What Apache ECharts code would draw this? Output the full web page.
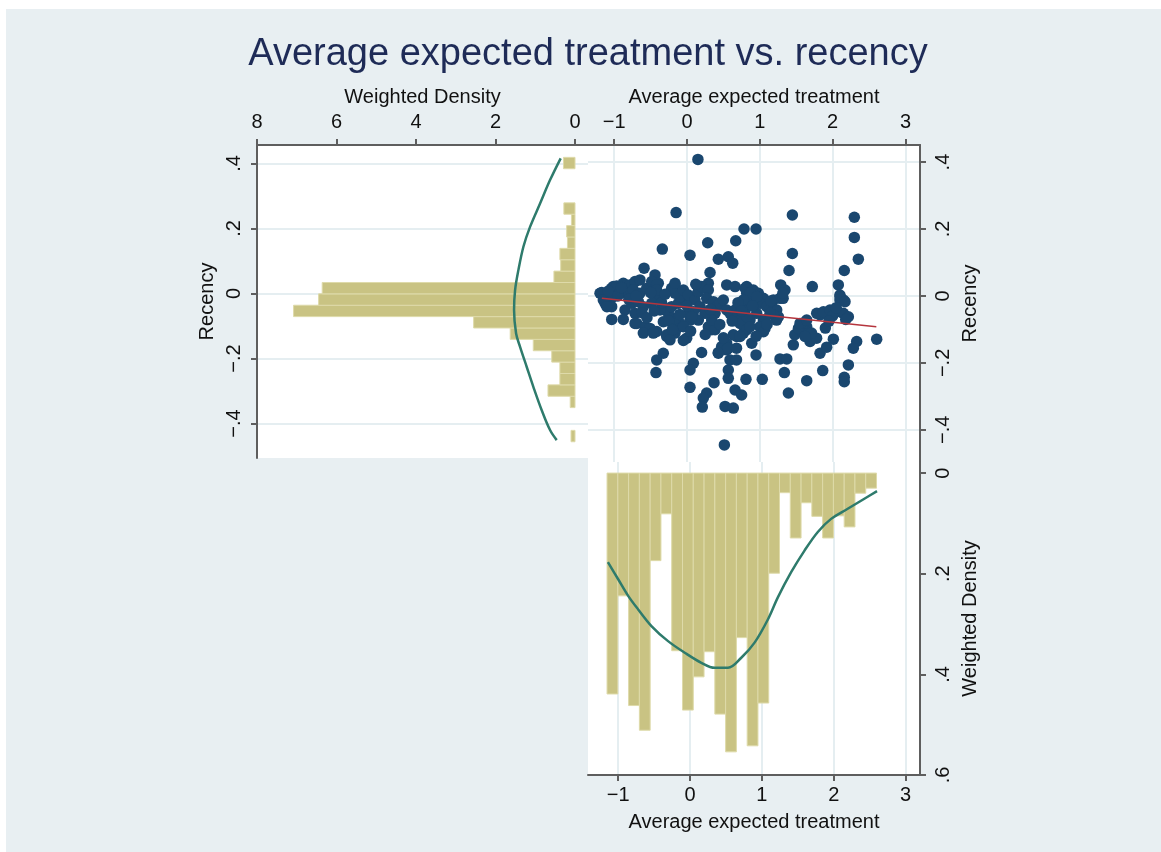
<!DOCTYPE html>
<html><head><meta charset="utf-8">
<script src="https://cdn.jsdelivr.net/npm/echarts@6/dist/echarts.min.js"></script>
<style>
html,body{margin:0;padding:0;background:#ffffff;}
#bg{position:absolute;left:6px;top:9px;width:1155px;height:843px;background:#e8eff2;}
#chart{position:absolute;left:0;top:0;width:1161px;height:852px;}
</style>
</head><body>
<div id="bg"></div>
<div id="chart"></div>
<script>
const chartTitle = 'Average expected treatment vs. recency';
const treatLabel = 'Average expected treatment';
const densityLabel = 'Weighted Density';
const recencyLabel = 'Recency';

const recencyTicks = [-0.4, -0.2, 0, 0.2, 0.4];
const treatTicks = [-1, 0, 1, 2, 3];
const leftDensityTicks = [0, 2, 4, 6, 8];
const bottomDensityTicks = [0, 0.2, 0.4, 0.6];

// Left histogram of recency (horizontal bars)
const recencyBinEdges = [-0.456,-0.421,-0.386,-0.351,-0.316,-0.281,-0.246,-0.211,-0.176,-0.141,-0.106,-0.071,-0.036,-0.001,0.034,0.069,0.104,0.139,0.174,0.209,0.244,0.279,0.314,0.349,0.384,0.419];
const recencyBinDensity = [0.10,0,0,0.12,0.68,0.38,0.38,0.585,1.05,1.63,2.55,7.08,6.45,6.36,0.53,0.36,0.38,0.19,0.21,0.09,0.28,0,0,0,0.29];
// Density curve on the left panel
const recencyCurveY = [0.416,0.349,0.277,0.205,0.144,0.072,0.010,-0.051,-0.123,-0.164,-0.226,-0.287,-0.359,-0.420,-0.451];
const recencyCurveDensity = [0.36,0.628,0.879,1.131,1.298,1.424,1.508,1.533,1.482,1.382,1.214,1.048,0.837,0.628,0.46];

// Bottom histogram of average expected treatment (downward bars)
const treatBinEdges = [-1.155,-1.005,-0.855,-0.705,-0.555,-0.405,-0.255,-0.105,0.045,0.195,0.345,0.495,0.645,0.795,0.945,1.095,1.245,1.395,1.545,1.695,1.845,1.995,2.145,2.295,2.445,2.595];
const treatBinDensity = [0.439,0.244,0.462,0.511,0.174,0.081,0.353,0.471,0.405,0.355,0.479,0.554,0.327,0.542,0.457,0.199,0.039,0.129,0.059,0.086,0.129,0.085,0.107,0.04,0.03];
// Density curve on the bottom panel
const treatCurveX = [-1.143,-1.0,-0.861,-0.722,-0.537,-0.306,-0.074,0.157,0.343,0.528,0.713,0.898,1.083,1.222,1.407,1.593,1.778,1.963,2.194,2.426,2.602];
const treatCurveDensity = [0.177,0.211,0.244,0.271,0.304,0.334,0.357,0.377,0.387,0.387,0.367,0.337,0.291,0.247,0.197,0.154,0.117,0.091,0.071,0.051,0.036];

// Scatter points [treatment, recency]
const scatterPoints = [
[0.15,0.408],[-0.15,0.249],[1.447,0.242],[2.298,0.235],[0.783,0.2],[0.948,0.2],[2.298,0.175],[0.284,0.159],[0.669,0.165],[-0.339,0.14],
[1.447,0.127],[2.353,0.11],[0.041,0.122],[0.43,0.11],[0.567,0.117],[0.628,0.098],[0.316,0.07],[1.401,0.076],[2.16,0.076],[-0.59,0.083],
[-0.44,0.063],[1.721,0.028],[2.078,0.033],[1.287,0.033],[1.346,0.018],[-0.165,0.033],[-0.394,0.038],[0.293,0.038],[0.545,0.033],[0.66,0.028],
[0.82,0.028],[0.91,0.018],[0.98,0.008],[0.155,0.013],[-1.012,0.028],[-1.172,0.01],[2.1,0.003],[2.15,-0.012],
[-1.195,0.008],[-1.104,-0.007],[-1.126,-0.022],[-1.035,0.023],[-0.966,0.030],[-0.875,0.038],[-0.783,0.033],[-0.714,0.043],[-0.646,0.048],[-1.012,-0.002],
[-0.920,0.008],[-0.829,0.008],[-0.737,0.018],[-0.646,0.008],[-0.554,0.023],[-0.485,0.043],[-0.417,0.033],[-1.035,-0.032],[-0.852,-0.042],[-0.760,-0.022],
[-0.668,-0.017],[-0.600,-0.032],[-0.714,-0.052],[-0.691,-0.082],[-0.577,-0.092],[-0.508,-0.097],[-0.417,-0.106],[-0.279,-0.116],[-0.165,-0.111],[-0.142,-0.097],
[-0.096,-0.082],[-0.165,-0.067],[-0.256,-0.052],[-0.302,-0.042],[-0.211,-0.032],[-0.119,-0.022],[-0.027,-0.012],[-0.096,-0.002],[-0.165,0.008],[-0.211,0.023],
[-0.165,0.038],[-0.050,0.018],[0.018,0.003],[0.110,-0.012],[0.156,0.013],[0.201,0.028],[0.293,0.018],[0.270,-0.007],[0.179,-0.032],[0.087,-0.047],
[0.041,-0.072],[-0.050,-0.092],[0.018,-0.052],[0.362,-0.017],[0.408,-0.032],[0.385,-0.052],[0.453,-0.022],[0.499,-0.012],[0.545,-0.042],[0.591,-0.052],
[0.659,-0.042],[0.705,-0.057],[0.728,-0.072],[0.797,-0.042],[0.842,-0.012],[0.820,0.008],[0.797,0.023],[0.888,0.013],[0.957,-0.002],[1.003,-0.017],
[1.049,-0.007],[1.094,-0.027],[1.163,-0.032],[1.186,-0.012],[1.232,-0.042],[1.255,-0.062],[1.049,-0.072],[1.026,-0.092],[1.071,-0.097],[0.957,-0.052],
[0.865,-0.072],[0.820,-0.097],[0.774,-0.111],[0.682,-0.121],[0.728,-0.082],[0.636,-0.116],[0.545,-0.141],[0.476,-0.151],[0.545,-0.161],[0.430,-0.171],
[0.339,-0.101],[0.293,-0.092],[0.385,-0.101],[0.339,-0.072],[0.247,-0.052],[0.156,-0.072],[0.064,-0.062],[-0.005,-0.126],[-0.325,-0.077],[-0.371,-0.042],
[-0.394,-0.002],[-0.417,0.018],[-0.485,-0.022],
[-1.034,-0.07],[-0.875,-0.07],[-0.714,-0.082],[-0.6,-0.111],[-0.463,-0.111],[-0.279,-0.121],[-0.234,-0.131],[-0.05,-0.133],[-0.326,-0.171],[-0.416,-0.191],
[-0.426,-0.229],[0.2,-0.169],[0.43,-0.169],[0.087,-0.201],[0.041,-0.221],[0.041,-0.273],[0.371,-0.259],[0.27,-0.29],[0.224,-0.305],[0.21,-0.332],
[0.522,-0.33],[0.636,-0.335],[0.513,-0.445],[0.567,-0.156],[0.59,-0.191],[0.567,-0.221],[0.567,-0.246],[0.66,-0.281],[0.68,-0.191],[0.68,-0.156],
[-1.15,-0.012],[-1.1,-0.032],
[2.605,-0.129],[2.33,-0.136],[2.284,-0.156],[2.216,-0.206],[2.16,-0.243],[2.16,-0.256],[1.864,-0.223],[1.644,-0.253],[1.392,-0.29],[1.337,-0.229],
[1.277,-0.188],[1.37,-0.188],[1.034,-0.249],[0.81,-0.249],[0.75,-0.296],[0.948,-0.176],[0.889,-0.141],[1.827,-0.171],[1.918,-0.153],[2.01,-0.129],
[1.46,-0.146],[1.48,-0.116],[1.55,-0.101],[1.644,-0.092],[1.69,-0.136],[1.78,-0.126],[1.71,-0.111],[1.9,-0.096],[1.827,-0.057],[1.92,-0.052],
[2.056,-0.047],[2.147,-0.052],[2.216,-0.062],[2.1,-0.012],[1.6,-0.081],[1.53,-0.097],[1.277,-0.007],[1.32,-0.007],[1.186,-0.057],[1.23,-0.072],
[1.003,-0.022],[1.095,-0.032],[1.14,-0.052],[1.07,-0.072],[1.0,-0.092],[1.05,-0.107],[0.82,-0.062],[0.82,-0.101],[0.865,-0.092],[0.728,-0.121],
[0.865,0.008],[0.957,-0.002],[0.773,-0.012],[1.316,0.008],
[1.552,-0.082],[1.644,-0.072],[1.621,-0.121],[1.781,-0.052],[1.873,-0.047],[1.964,-0.042],[2.102,-0.002],[2.17,-0.017],
[-1.08,0.015],[-0.95,0.0],[-0.9,0.025],[-0.8,-0.01],[-0.7,0.0],[-0.62,-0.05],[-0.55,-0.065],[-0.5,0.01],[-0.45,-0.045],[-0.35,-0.02],
[-0.3,0.005],[-0.25,-0.075],[-0.2,-0.1],[-0.1,-0.055],[0.0,-0.03],[0.05,-0.105],[0.12,0.035],[0.25,-0.115],[0.32,-0.04],[0.45,-0.085],
[0.5,-0.125],[0.62,-0.075],[0.7,-0.02],[0.75,-0.045],[0.9,-0.03],[0.95,-0.12],[1.1,-0.085],[1.15,-0.015],[2.0,-0.06],[2.05,-0.035],
[2.18,-0.07],[1.95,-0.075]
];
// Linear fit line endpoints
const fitTreat = [-1.17, 2.6];
const fitRecency = [-0.007, -0.092];

const FONT = '"Liberation Sans", Arial, Helvetica, sans-serif';
const BAR_FILL = '#c9c383';
const BAR_STROKE = '#dedaa9';
const CURVE = '#2e7b6c';
const DOT = '#1a476f';
const FIT = '#b5353d';
const AXIS = '#5e5e5e';
const GRIDLINE = '#e5eef1';

function fmt(v) {
  if (v === 0) return '0';
  const s = String(Math.abs(v)).replace(/^0\./, '.');
  return (v < 0 ? '\u2212' : '') + s;
}
const labelStyle = { fontFamily: FONT, fontSize: 20, color: '#111' };
const nameStyle = { fontFamily: FONT, fontSize: 20, color: '#111' };

function axisBase(ticks, opts) {
  return Object.assign({
    type: 'value',
    axisLine: { show: true, onZero: false, lineStyle: { color: AXIS, width: 2 } },
    axisTick: { show: true, length: 6, inside: false, customValues: ticks, lineStyle: { color: AXIS, width: 2 } },
    axisLabel: Object.assign({ customValues: ticks, formatter: fmt, hideOverlap: false, showMinLabel: true, showMaxLabel: true }, labelStyle),
    splitLine: { show: false },
    nameLocation: 'middle',
    nameTextStyle: nameStyle
  }, opts);
}

const leftBars = recencyBinDensity.map((d, i) => [recencyBinEdges[i], recencyBinEdges[i + 1], d]);
const bottomBars = treatBinDensity.map((d, i) => [treatBinEdges[i], treatBinEdges[i + 1], d]);
const leftCurve = recencyCurveY.map((y, i) => [recencyCurveDensity[i], y]);
const bottomCurve = treatCurveX.map((x, i) => [x, treatCurveDensity[i]]);
const fitLine = fitTreat.map((x, i) => [x, fitRecency[i]]);

function rectFrom(p1, p2) {
  return {
    x: Math.min(p1[0], p2[0]), y: Math.min(p1[1], p2[1]),
    width: Math.abs(p2[0] - p1[0]), height: Math.abs(p2[1] - p1[1])
  };
}

const chart = echarts.init(document.getElementById('chart'), null, { renderer: 'canvas' });
const option = {
  animation: false,
  backgroundColor: 'transparent',
  graphic: [{
    type: 'text', x: 588, y: 55, z: 10,
    style: { text: chartTitle, font: '38px ' + FONT, fill: '#1e2b57', align: 'center', verticalAlign: 'middle' }
  }],
  grid: [
    { left: 257, top: 145, width: 331, height: 313, show: true, backgroundColor: '#ffffff', borderWidth: 0, containLabel: false, outerBoundsMode: 'none' },
    { left: 588, top: 145, width: 332, height: 317, show: true, backgroundColor: '#ffffff', borderWidth: 0, containLabel: false, outerBoundsMode: 'none' },
    { left: 588, top: 462, width: 332, height: 313, show: true, backgroundColor: '#ffffff', borderWidth: 0, containLabel: false, outerBoundsMode: 'none' }
  ],
  xAxis: [
    axisBase(leftDensityTicks, { gridIndex: 0, position: 'top', inverse: true, min: -0.327, max: 8,
      name: densityLabel, nameGap: 38,
      axisLabel: Object.assign({ customValues: leftDensityTicks, formatter: fmt, margin: 13 }, labelStyle) }),
    axisBase(treatTicks, { gridIndex: 1, position: 'top', min: -1.36, max: 3.2,
      name: treatLabel, nameGap: 38,
      axisLabel: Object.assign({ customValues: treatTicks, formatter: fmt, margin: 13 }, labelStyle),
      splitLine: { show: true, lineStyle: { color: GRIDLINE, width: 2 } } }),
    axisBase(treatTicks, { gridIndex: 2, position: 'bottom', min: -1.42, max: 3.2,
      name: treatLabel, nameGap: 37,
      axisLabel: Object.assign({ customValues: treatTicks, formatter: fmt, margin: 10 }, labelStyle),
      splitLine: { show: true, lineStyle: { color: GRIDLINE, width: 2 } } })
  ],
  yAxis: [
    axisBase(recencyTicks, { gridIndex: 0, position: 'left', min: -0.506, max: 0.457,
      name: recencyLabel, nameGap: 40, nameRotate: 90,
      axisLabel: Object.assign({ customValues: recencyTicks, formatter: fmt, rotate: 90, margin: 13 }, labelStyle),
      splitLine: { show: true, lineStyle: { color: GRIDLINE, width: 2 } } }),
    axisBase(recencyTicks, { gridIndex: 1, position: 'right', min: -0.496, max: 0.451,
      name: recencyLabel, nameGap: 40, nameRotate: 90,
      axisLabel: Object.assign({ customValues: recencyTicks, formatter: fmt, rotate: 90, margin: 13 }, labelStyle),
      splitLine: { show: true, lineStyle: { color: GRIDLINE, width: 2 } } }),
    axisBase(bottomDensityTicks, { gridIndex: 2, position: 'right', inverse: true, min: -0.022, max: 0.6,
      name: densityLabel, nameGap: 40, nameRotate: 90,
      axisLabel: Object.assign({ customValues: bottomDensityTicks, formatter: fmt, rotate: 90, margin: 13 }, labelStyle) })
  ],
  series: [
    {
      type: 'custom', xAxisIndex: 0, yAxisIndex: 0, data: leftBars,
      encode: { x: 2, y: [0, 1] }, clip: true,
      renderItem: function (params, api) {
        const lo = api.value(0), hi = api.value(1), d = api.value(2);
        if (!d) return null;
        const p1 = api.coord([0, lo]), p2 = api.coord([d, hi]);
        return { type: 'rect', shape: rectFrom(p1, p2), style: { fill: BAR_FILL, stroke: BAR_STROKE, lineWidth: 1 } };
      }
    },
    {
      type: 'line', xAxisIndex: 0, yAxisIndex: 0, data: leftCurve, smooth: 0.35,
      showSymbol: false, symbol: 'none', lineStyle: { color: CURVE, width: 2.5 }, z: 5
    },
    {
      type: 'scatter', xAxisIndex: 1, yAxisIndex: 1, data: scatterPoints,
      symbol: 'circle', symbolSize: 11.5, itemStyle: { color: DOT, opacity: 1 }, z: 3
    },
    {
      type: 'line', xAxisIndex: 1, yAxisIndex: 1, data: fitLine,
      showSymbol: false, symbol: 'none', lineStyle: { color: FIT, width: 1.5 }, z: 6
    },
    {
      type: 'custom', xAxisIndex: 2, yAxisIndex: 2, data: bottomBars,
      encode: { x: [0, 1], y: 2 }, clip: true,
      renderItem: function (params, api) {
        const lo = api.value(0), hi = api.value(1), d = api.value(2);
        if (!d) return null;
        const p1 = api.coord([lo, 0]), p2 = api.coord([hi, d]);
        return { type: 'rect', shape: rectFrom(p1, p2), style: { fill: BAR_FILL, stroke: BAR_STROKE, lineWidth: 1 } };
      }
    },
    {
      type: 'line', xAxisIndex: 2, yAxisIndex: 2, data: bottomCurve, smooth: 0.35,
      showSymbol: false, symbol: 'none', lineStyle: { color: CURVE, width: 2.5 }, z: 5
    }
  ]
};
chart.setOption(option);
</script>
</body></html>
